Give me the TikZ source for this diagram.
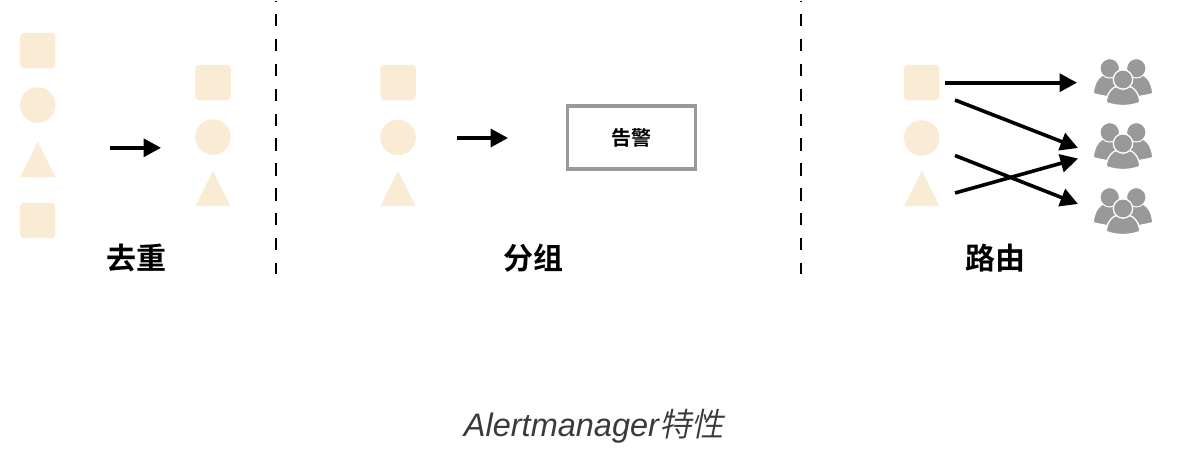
\documentclass[tikz,border=0pt]{standalone}
\usepackage{fontspec}
\usetikzlibrary{arrows.meta}
\setmainfont{Liberation Sans}
\newfontfamily\cjkbold[BoldFont={Noto Sans CJK SC Bold}]{Noto Sans CJK SC Medium}
\newfontfamily\cjkslant[FakeSlant=0.2]{Noto Sans CJK SC DemiLight}
\definecolor{shapefill}{HTML}{FAEBD4}
\definecolor{peoplegray}{HTML}{999999}
\definecolor{titlegray}{HTML}{3A3A3A}
\tikzset{
  sq/.style={fill=shapefill,rounded corners=4pt,minimum size=35.5pt,inner sep=0pt},
  circ/.style={fill=shapefill,circle,minimum size=35.5pt,inner sep=0pt},
  tri/.pic={\fill[shapefill] (0,-17.7) -- (17.7,17.7) -- (-17.7,17.7) -- cycle;},
  conn/.style={line width=3.6pt,-{Triangle[length=17.5pt,width=18pt]}},
  sep/.style={line width=2pt,dash pattern=on 12.3pt off 12.6pt},
  lab/.style={font=\fontsize{30}{32}\selectfont\cjkbold\bfseries,inner sep=0pt},
  people/.pic={
    \begin{scope}[peoplegray]
      \foreach \s in {-1,1}{
        \fill[draw=white,line width=1pt] (\s*29.5,18) .. controls (\s*28.5,11) and (\s*26,5) .. (\s*20,1.5) -- (\s*8,1.5) -- (0,14) -- (\s*12,23.5) .. controls (\s*18,22.5) and (\s*25,21.5) .. (\s*29.5,20) -- cycle;
        \fill[draw=white,line width=1pt] (\s*13.3,-5.2) circle (9.7pt);
      }
      \fill[draw=white,line width=1.3pt] (-16.5,26) .. controls (-15.5,19) and (-10,13) .. (-6,13) -- (6,13) .. controls (10,13) and (15.5,19) .. (16.5,26) -- (16.5,29) .. controls (7,33) and (-7,33) .. (-16.5,29) -- cycle;
      \fill[draw=white,line width=1.3pt] (0,6) circle (9.7pt);
    \end{scope}
  }
}
\begin{document}
\begin{tikzpicture}[x=1pt,y=-1pt]
\useasboundingbox (0,0) rectangle (1178,456);
% dedupe
\node[sq] (a1) at (37.7,50.5) {};
\node[circ] (a2) at (37.7,105) {};
\pic at (37.7,159.5) {tri};
\node[sq] (a4) at (37.7,220.5) {};
\node[sq] (b1) at (213,82.5) {};
\node[circ] (b2) at (213,137) {};
\pic at (213,188.5) {tri};
\coordinate (d1s) at (110,147.8); \coordinate (d1e) at (161,147.8);
\draw[conn] (d1s) -- (d1e);
\node[lab] (l1) at (136,258) {去重};
% separators
\coordinate (s1t) at (275.5,1); \coordinate (s1b) at (275.5,274);
\coordinate (s2t) at (800.5,1); \coordinate (s2b) at (800.5,274);
\draw[sep,dash phase=12pt] (s1t) -- (s1b);
\draw[sep,dash phase=12pt] (s2t) -- (s2b);
% group
\node[sq] (c1) at (398,82.5) {};
\node[circ] (c2) at (398,137.5) {};
\pic at (398,188.5) {tri};
\coordinate (g1s) at (457,138); \coordinate (g1e) at (508,138);
\draw[conn] (g1s) -- (g1e);
\node[draw=peoplegray,line width=3.4pt,minimum width=128.5pt,minimum height=63pt,inner sep=0pt,font=\fontsize{20}{22}\selectfont\cjkbold] (box) at (631.5,137.5) {\bfseries 告警};
\node[lab] (l2) at (533.5,258) {分组};
% route
\node[sq] (e1) at (921.7,82.5) {};
\node[circ] (e2) at (921.7,138) {};
\pic at (921.7,188.5) {tri};
\pic at (1123,73.5) {people};
\pic at (1123,137.5) {people};
\pic at (1123,202.5) {people};
\coordinate (r1s) at (945,82.7); \coordinate (r1e) at (1077,82.7);
\coordinate (r2s) at (955,100); \coordinate (r2e) at (1078,148);
\coordinate (r3s) at (955,155.5); \coordinate (r3e) at (1078,204);
\coordinate (r4s) at (955,193); \coordinate (r4e) at (1078,158.5);
\draw[conn] (r1s) -- (r1e);
\draw[conn] (r2s) -- (r2e);
\draw[conn] (r3s) -- (r3e);
\draw[conn] (r4s) -- (r4e);
\node[lab] (l3) at (995.5,258) {路由};
% title
\node[inner sep=0pt,text=titlegray,font=\fontsize{32.5}{36}\selectfont] (title) at (594,426) {\itshape Alertmanager{\cjkslant 特性}};
\end{tikzpicture}
\end{document}
